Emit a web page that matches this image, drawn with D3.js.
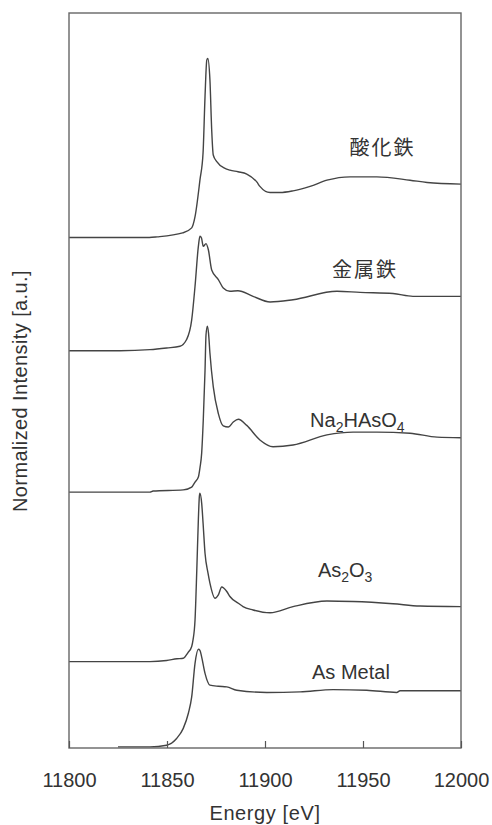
<!DOCTYPE html>
<html>
<head>
<meta charset="utf-8">
<script src="https://cdn.jsdelivr.net/npm/d3@7"></script>
<style>
  body { margin: 0; background: #fff; }
  svg { display: block; }
  .lbl { font-family: "Liberation Sans", Arial, sans-serif; fill: #333; }
  .jp { font-family: "Noto Sans CJK JP", sans-serif; fill: #333; }
</style>
</head>
<body>
<svg id="SvgXanes"></svg>
<script>
// ---------------------------------------------------------- XANES stack ---------------------------------------------------------- //

// ------ Data (normalized intensity, edge jump ~1)
var seriesNames = ["酸化鉄", "金属鉄", "Na2HAsO4", "As2O3", "As Metal"];
var seriesOffsets = [9.1, 7.08, 4.56, 1.54, 0.02];

var eFeOxide = [11800, 11841, 11845, 11858, 11862.6, 11864.3, 11866.8, 11868.4, 11869.4, 11870.3, 11870.8, 11871.9, 11872.8, 11873.6, 11875.4, 11879.6, 11882.1, 11886.2, 11890.7, 11895.8, 11897.4, 11902.6, 11907.7, 11914.3, 11923, 11931.6, 11943.4, 11957.1, 11974, 11982.7, 12000];
var vFeOxide = [0, 0, 0.01, 0.08, 0.17, 0.37, 1.02, 1.51, 2.51, 3.16, 3.19, 2.81, 1.92, 1.47, 1.35, 1.23, 1.20, 1.17, 1.13, 0.99, 0.91, 0.80, 0.80, 0.83, 0.91, 1.02, 1.08, 1.08, 1.02, 0.98, 0.95];

var eFeMetal = [11800, 11826, 11841.3, 11849.8, 11856.6, 11860, 11862.6, 11864.3, 11866, 11866.8, 11867.6, 11868.5, 11869.9, 11871.1, 11872.8, 11876.2, 11878.7, 11882.1, 11886.2, 11893.9, 11902.6, 11914.3, 11936.7, 11948.5, 11965.3, 11975.5, 12000];
var vFeMetal = [0, 0, 0.02, 0.05, 0.08, 0.20, 0.55, 1.15, 1.86, 2.04, 2.01, 1.86, 1.91, 1.80, 1.44, 1.27, 1.12, 1.06, 1.07, 0.97, 0.87, 0.91, 1.06, 1.04, 1.02, 0.97, 0.97];

var eNa2HAsO4 = [11800, 11841.3, 11842.9, 11858.3, 11862.6, 11864.3, 11866, 11866.8, 11867.7, 11868.5, 11869.4, 11869.9, 11870.6, 11871.2, 11871.9, 11873.6, 11876.2, 11878.7, 11881.3, 11883.8, 11886.4, 11890.7, 11897.4, 11904.1, 11914.3, 11931.6, 11944.9, 11957.1, 11974, 11987.8, 12000];
var vNa2HAsO4 = [0, 0, 0.02, 0.04, 0.09, 0.18, 0.27, 0.43, 0.70, 1.28, 2.17, 2.80, 2.96, 2.83, 2.48, 1.88, 1.40, 1.18, 1.16, 1.25, 1.30, 1.19, 0.93, 0.81, 0.84, 1.02, 1.07, 1.07, 1.05, 0.98, 0.97];

var eAs2O3 = [11800, 11841.3, 11849.8, 11855.1, 11858.3, 11860.7, 11862.6, 11863.3, 11864.3, 11865.2, 11866, 11866.5, 11866.8, 11867.7, 11868.4, 11869.4, 11870.9, 11871.9, 11874.5, 11876.2, 11877.9, 11880.5, 11882.1, 11886.4, 11888.8, 11893.9, 11902.6, 11914.3, 11931.6, 11944.9, 11965.3, 11979.1, 12000];
var vAs2O3 = [0, 0, 0.02, 0.05, 0.06, 0.16, 0.27, 0.39, 0.74, 1.63, 2.53, 2.94, 3.00, 2.82, 2.47, 1.93, 1.58, 1.40, 1.13, 1.19, 1.33, 1.25, 1.16, 1.04, 0.98, 0.92, 0.87, 0.98, 1.08, 1.07, 1.03, 0.99, 0.98];

var eAsMetal = [11825, 11841.3, 11849.8, 11854.9, 11858.3, 11860.9, 11862.6, 11864.3, 11866, 11866.8, 11867.7, 11869.4, 11871.9, 11876.2, 11880.5, 11885.6, 11900.9, 11917.9, 11934.7, 11951.9, 11967.2, 11968.9, 12000];
var vAsMetal = [0, 0, 0.03, 0.15, 0.33, 0.60, 0.89, 1.49, 1.74, 1.72, 1.60, 1.31, 1.10, 1.08, 1.07, 1.01, 0.97, 0.98, 1.02, 1.01, 0.97, 1.00, 1.00];

var seriesEnergy = [eFeOxide, eFeMetal, eNa2HAsO4, eAs2O3, eAsMetal];
var seriesValue = [vFeOxide, vFeMetal, vNa2HAsO4, vAs2O3, vAsMetal];

var xTicks = [11800, 11850, 11900, 11950, 12000];
var xDomain = [11800, 12000];
var yDomain = [0, 13.1];

// ------ Label placement (energy, stacked intensity)
var labelPos = [[11960, 10.57], [11951, 8.4], [11923, 5.72], [11927, 3.04], [11924, 1.23]];
var labelAnchor = ["middle", "middle", "start", "start", "start"];

// ------ Sizes
var W = 492, H = 825;
var margin = {top: 13, right: 31, bottom: 77, left: 69},
    width = W - margin.left - margin.right,
    height = H - margin.top - margin.bottom;

var xScale = d3.scaleLinear().domain(xDomain).range([0, width]);
var yScale = d3.scaleLinear().domain(yDomain).range([height, 0]);

var svg = d3.select("#SvgXanes")
    .attr("width", W)
    .attr("height", H);

var g = svg.append("g")
    .attr("transform", "translate(" + margin.left + "," + margin.top + ")");

// ------ Curves
var line = d3.line()
    .curve(d3.curveMonotoneX)
    .x(function(d) { return xScale(d[0]); })
    .y(function(d) { return yScale(d[1]); });

seriesNames.forEach(function(name, i) {
    var pts = seriesEnergy[i].map(function(e, j) { return [e, seriesValue[i][j] + seriesOffsets[i]]; });
    g.append("path")
        .datum(pts)
        .attr("fill", "none")
        .attr("stroke", "#444")
        .attr("stroke-width", 1.4)
        .attr("stroke-linejoin", "round")
        .attr("d", line);
});

// ------ Frame
g.append("rect")
    .attr("x", xScale(xDomain[0]))
    .attr("y", yScale(yDomain[1]))
    .attr("width", xScale(xDomain[1]) - xScale(xDomain[0]))
    .attr("height", yScale(yDomain[0]) - yScale(yDomain[1]))
    .attr("fill", "none")
    .attr("stroke", "#666")
    .attr("stroke-width", 1.4);

// ------ X axis (inward ticks)
var xAxis = d3.axisBottom(xScale)
    .tickValues(xTicks)
    .tickSize(-7)
    .tickPadding(25)
    .tickFormat(d3.format("d"));

var ax = g.append("g")
    .attr("transform", "translate(0," + height + ")")
    .call(xAxis);
ax.select(".domain").remove();
ax.selectAll("line").attr("stroke", "#555").attr("stroke-width", 1.2);
ax.selectAll("text")
    .attr("class", "lbl")
    .attr("fill", "#333")
    .style("font-size", "20px");

// axis titles
svg.append("text")
    .attr("class", "lbl")
    .attr("x", margin.left + width / 2)
    .attr("y", 820)
    .attr("text-anchor", "middle")
    .style("font-size", "20px")
    .style("letter-spacing", "0.6px")
    .text("Energy [eV]");

svg.append("text")
    .attr("class", "lbl")
    .attr("transform", "translate(27,391) rotate(-90)")
    .attr("text-anchor", "middle")
    .style("font-size", "20px")
    .style("letter-spacing", "0.4px")
    .text("Normalized Intensity [a.u.]");

// ------ Series labels (digits become subscripts)
seriesNames.forEach(function(name, i) {
    var isJp = /[\u3000-\u9fff]/.test(name);
    var t = g.append("text")
        .attr("class", isJp ? "jp" : "lbl")
        .attr("x", xScale(labelPos[i][0]))
        .attr("y", yScale(labelPos[i][1]))
        .attr("text-anchor", labelAnchor[i])
        .style("font-size", "20px")
        .style("letter-spacing", isJp ? "2px" : "0px");
    if (isJp) { t.text(name); return; }
    var parts = name.match(/\d+|\D+/g);
    var sub = false;
    parts.forEach(function(p) {
        var isNum = /\d/.test(p);
        var ts = t.append("tspan").text(p);
        if (isNum) { ts.style("font-size", "14px").attr("dy", 5); sub = true; }
        else if (sub) { ts.attr("dy", -5); sub = false; }
    });
});
</script>
</body>
</html>
